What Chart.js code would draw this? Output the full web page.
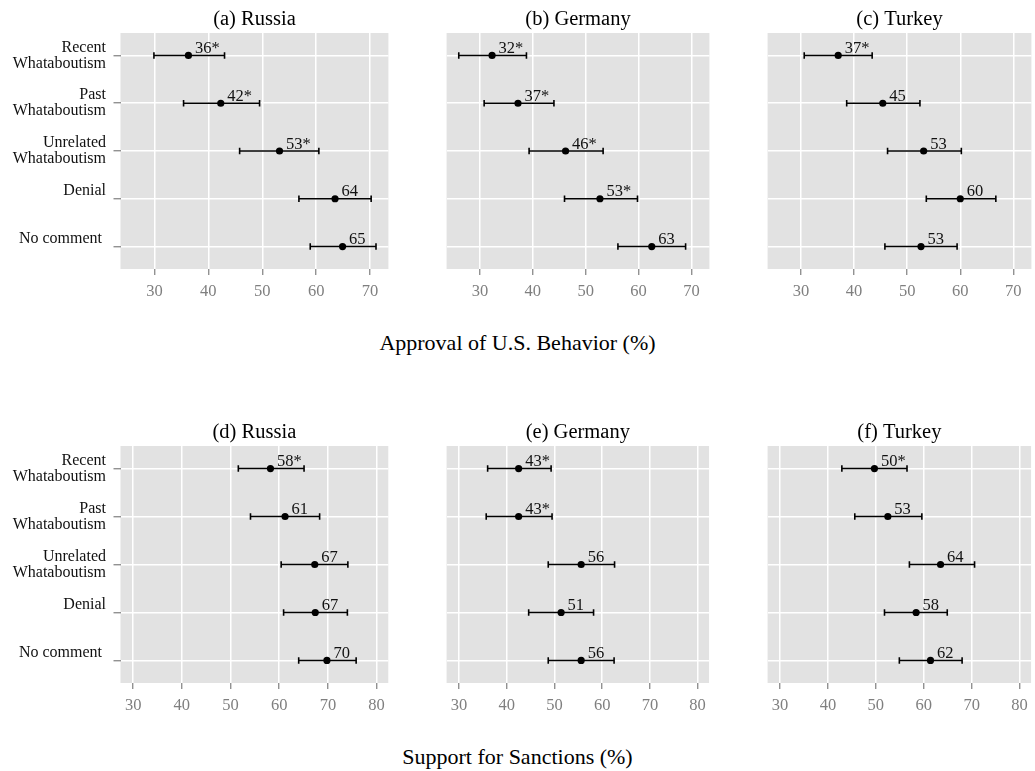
<!DOCTYPE html>
<html><head><meta charset="utf-8">
<script src="https://cdn.jsdelivr.net/npm/chart.js@4.4.0/dist/chart.umd.min.js"></script>
<style>
html,body{margin:0;padding:0;background:#fff;}
body{width:1035px;height:771px;position:relative;overflow:hidden;}
canvas{position:absolute;}
.axt{position:absolute;left:0;width:1035px;text-align:center;font-family:'Liberation Serif',serif;font-size:22px;line-height:26px;color:#000;}
</style></head><body>
<canvas id="pa"></canvas><canvas id="pb"></canvas><canvas id="pc"></canvas>
<canvas id="pd"></canvas><canvas id="pe"></canvas><canvas id="pf"></canvas>
<div class="axt" id="t1" style="top:330px">Approval of U.S. Behavior (%)</div>
<div class="axt" id="t2" style="top:744px">Support for Sanctions (%)</div>
<script>
// ---- data ----
const categories = [['Recent','Whataboutism'],['Past','Whataboutism'],['Unrelated','Whataboutism'],['Denial',''],['No comment ','']];
const approvalTicks = [30,40,50,60,70];
const sanctionsTicks = [30,40,50,60,70,80];
const panelTitles = ['(a) Russia','(b) Germany','(c) Turkey','(d) Russia','(e) Germany','(f) Turkey'];

const russiaApprovalEst = [36.3, 42.3, 53.2, 63.5, 64.9];
const russiaApprovalLo  = [29.9, 35.4, 45.8, 56.8, 58.9];
const russiaApprovalHi  = [43.0, 49.5, 60.5, 70.2, 71.1];
const russiaApprovalLbl = ['36*','42*','53*','64','65'];

const germanyApprovalEst = [32.3, 37.2, 46.2, 52.7, 62.5];
const germanyApprovalLo  = [26.0, 30.8, 39.3, 46.0, 56.1];
const germanyApprovalHi  = [38.8, 44.0, 53.3, 59.8, 68.9];
const germanyApprovalLbl = ['32*','37*','46*','53*','63'];

const turkeyApprovalEst = [37.0, 45.4, 53.1, 60.0, 52.6];
const turkeyApprovalLo  = [30.6, 38.6, 46.3, 53.6, 45.8];
const turkeyApprovalHi  = [43.4, 52.4, 60.2, 66.7, 59.4];
const turkeyApprovalLbl = ['37*','45','53','60','53'];

const russiaSanctionsEst = [58.2, 61.2, 67.3, 67.4, 69.8];
const russiaSanctionsLo  = [51.6, 54.1, 60.4, 60.9, 64.0];
const russiaSanctionsHi  = [65.1, 68.3, 74.1, 74.0, 75.8];
const russiaSanctionsLbl = ['58*','61','67','67','70'];

const germanySanctionsEst = [42.5, 42.5, 55.6, 51.4, 55.6];
const germanySanctionsLo  = [36.0, 35.7, 48.7, 44.6, 48.7];
const germanySanctionsHi  = [49.3, 49.5, 62.6, 58.2, 62.5];
const germanySanctionsLbl = ['43*','43*','56','51','56'];

const turkeySanctionsEst = [49.7, 52.5, 63.5, 58.4, 61.4];
const turkeySanctionsLo  = [42.9, 45.6, 57.0, 51.8, 54.9];
const turkeySanctionsHi  = [56.5, 59.6, 70.6, 64.9, 68.0];
const turkeySanctionsLbl = ['50*','53','64','58','62'];

// ---- styling / layout ----
const SERIF = "'Liberation Serif', 'DejaVu Serif', serif";
const PANEL_BG = '#E2E2E2';
const TICK_GREY = '#7F7F7F';

const bgPlugin = {
  id:'panelBg',
  beforeDraw(chart){
    const {ctx, chartArea:a} = chart;
    ctx.save(); ctx.fillStyle = PANEL_BG;
    ctx.fillRect(a.left, a.top, a.right-a.left, a.bottom-a.top);
    ctx.restore();
  }
};
const titlePlugin = {
  id:'panelTitle',
  afterDraw(chart, args, opts){
    const {ctx, chartArea:a} = chart;
    ctx.save();
    ctx.font = '20.5px ' + SERIF;
    ctx.fillStyle = '#000';
    ctx.textAlign = 'center'; ctx.textBaseline = 'alphabetic';
    ctx.fillText(opts.text, (a.left+a.right)/2, a.top - 8);
    ctx.restore();
  }
};
const errPlugin = {
  id:'errBars',
  beforeDatasetsDraw(chart){
    const {ctx, scales:{x,y}} = chart;
    const ds = chart.data.datasets[0];
    ctx.save(); ctx.strokeStyle = '#000'; ctx.lineWidth = 1.6;
    ds.errLo.forEach((lo,i)=>{
      const hi = ds.errHi[i];
      const py = y.getPixelForValue(i);
      const x1 = x.getPixelForValue(lo), x2 = x.getPixelForValue(hi);
      ctx.beginPath();
      ctx.moveTo(x1,py); ctx.lineTo(x2,py);
      ctx.moveTo(x1,py-3.2); ctx.lineTo(x1,py+3.2);
      ctx.moveTo(x2,py-3.2); ctx.lineTo(x2,py+3.2);
      ctx.stroke();
    });
    ctx.restore();
  },
  afterDatasetsDraw(chart){
    const {ctx, scales:{x,y}} = chart;
    const ds = chart.data.datasets[0];
    ctx.save(); ctx.fillStyle = '#111';
    ctx.font = '16.5px ' + SERIF;
    ctx.textAlign = 'left'; ctx.textBaseline = 'alphabetic';
    ds.data.forEach((p,i)=>{
      ctx.fillText(ds.valueLabels[i], x.getPixelForValue(p.x)+6.5, y.getPixelForValue(p.y)-2.5);
    });
    ctx.restore();
  }
};

function makePanel(id, opt){
  const cv = document.getElementById(id);
  cv.style.left = opt.left+'px'; cv.style.top = opt.top+'px';
  cv.width = opt.width; cv.height = opt.height;
  new Chart(cv, {
    type:'scatter',
    data:{datasets:[{
      data: opt.est.map((v,i)=>({x:v,y:i})),
      errLo: opt.lo, errHi: opt.hi, valueLabels: opt.lbl,
      pointRadius:3.6, pointHoverRadius:3.6, borderWidth:0,
      backgroundColor:'#000', borderColor:'#000'
    }]},
    options:{
      responsive:false, animation:false, devicePixelRatio:1, events:[],
      layout:{padding:{top:opt.padTop, left:0, right:0, bottom:0}},
      plugins:{legend:{display:false}, tooltip:{enabled:false}, panelTitle:{text:opt.title}},
      scales:{
        x:{type:'linear', min:opt.xmin, max:opt.xmax,
           afterBuildTicks:s=>{ s.ticks = opt.ticks.map(v=>({value:v})); },
           grid:{color:'#FFFFFF', lineWidth:1.5, drawTicks:true, tickLength:6, tickColor:TICK_GREY, tickWidth:1.2},
           border:{display:false},
           ticks:{color:TICK_GREY, padding:7, maxRotation:0, font:{family:SERIF, size:16.5, lineHeight:1.2}},
           afterFit:s=>{ s.height = opt.xAxisH; }
        },
        y:{type:'linear', reverse:true, min:-0.47, max:4.47,
           afterBuildTicks:s=>{ s.ticks = categories.map((c,i)=>({value:i})); },
           grid:{color:'#FFFFFF', lineWidth:1.5, drawTicks:opt.showY, tickLength:7, tickColor:TICK_GREY, tickWidth:1.2},
           border:{display:false},
           ticks:{display:opt.showY, color:'#111', padding:7.5, font:{family:SERIF, size:16, lineHeight:1.0},
                  callback:v=>categories[v]},
           afterFit:s=>{ s.width = opt.showY ? 120.5 : 0; }
        }
      }
    },
    plugins:[bgPlugin, errPlugin, titlePlugin]
  });
}

const colLeft = [0, 443, 764];
const colWidth = [392, 270, 271];
const showYCol = [true, false, false];
const topRows = [
  [russiaApprovalEst, russiaApprovalLo, russiaApprovalHi, russiaApprovalLbl],
  [germanyApprovalEst, germanyApprovalLo, germanyApprovalHi, germanyApprovalLbl],
  [turkeyApprovalEst, turkeyApprovalLo, turkeyApprovalHi, turkeyApprovalLbl]
];
const botRows = [
  [russiaSanctionsEst, russiaSanctionsLo, russiaSanctionsHi, russiaSanctionsLbl],
  [germanySanctionsEst, germanySanctionsLo, germanySanctionsHi, germanySanctionsLbl],
  [turkeySanctionsEst, turkeySanctionsLo, turkeySanctionsHi, turkeySanctionsLbl]
];
['pa','pb','pc'].forEach((id,c)=>{
  const r = topRows[c];
  makePanel(id,{left:colLeft[c], top:0, width:colWidth[c], height:300, padTop:33, xAxisH:31,
    showY:showYCol[c], title:panelTitles[c], ticks:approvalTicks, xmin:23.7, xmax:73.4,
    est:r[0], lo:r[1], hi:r[2], lbl:r[3]});
});
['pd','pe','pf'].forEach((id,c)=>{
  const r = botRows[c];
  makePanel(id,{left:colLeft[c], top:400, width:colWidth[c], height:320, padTop:46, xAxisH:37,
    showY:showYCol[c], title:panelTitles[c+3], ticks:sanctionsTicks, xmin:27.4, xmax:82.4,
    est:r[0], lo:r[1], hi:r[2], lbl:r[3]});
});
</script>
</body></html>
